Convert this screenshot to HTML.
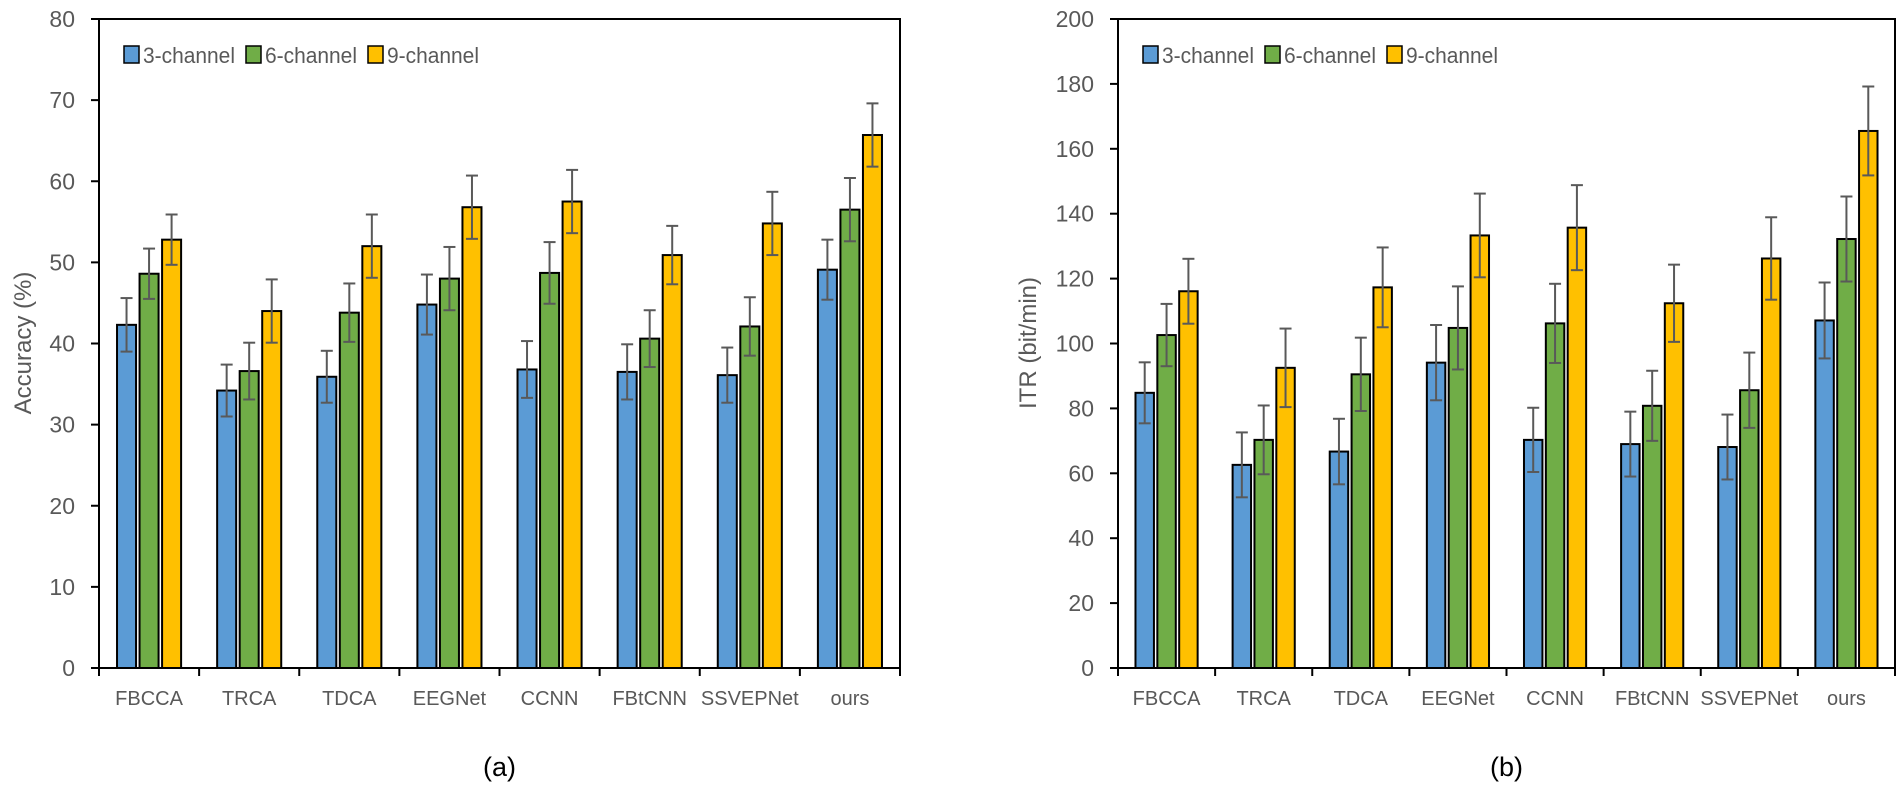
<!DOCTYPE html>
<html><head><meta charset="utf-8">
<style>
html,body{margin:0;padding:0;background:#fff;}
svg{display:block;font-family:"Liberation Sans",sans-serif;}
</style></head>
<body>
<svg id="fig" width="1902" height="788" viewBox="0 0 1902 788" xmlns="http://www.w3.org/2000/svg"></svg>
<script>
const categories = ["FBCCA","TRCA","TDCA","EEGNet","CCNN","FBtCNN","SSVEPNet","ours"];
const seriesNames = ["3-channel","6-channel","9-channel"];
const accTicks = [0,10,20,30,40,50,60,70,80];
const acc3 = [42.3,34.2,35.9,44.8,36.8,36.5,36.1,49.1];
const acc6 = [48.6,36.6,43.8,48.0,48.7,40.6,42.1,56.5];
const acc9 = [52.8,44.0,52.0,56.8,57.5,50.9,54.8,65.7];
const accErr3 = [3.3,3.2,3.2,3.7,3.5,3.4,3.4,3.7];
const accErr6 = [3.1,3.5,3.6,3.9,3.8,3.5,3.6,3.9];
const accErr9 = [3.1,3.9,3.9,3.9,3.9,3.6,3.9,3.9];
const itrTicks = [0,20,40,60,80,100,120,140,160,180,200];
const itr3 = [84.8,62.6,66.7,94.1,70.3,69.0,68.1,107.1];
const itr6 = [102.6,70.3,90.5,104.8,106.2,80.8,85.6,132.2];
const itr9 = [116.1,92.5,117.3,133.3,135.7,112.4,126.2,165.5];
const itrErr3 = [9.4,10.0,10.1,11.6,9.9,10.0,10.0,11.7];
const itrErr6 = [9.6,10.6,11.3,12.8,12.2,10.8,11.6,13.1];
const itrErr9 = [10.0,12.1,12.3,12.9,13.1,11.9,12.7,13.7];

const NS="http://www.w3.org/2000/svg";
const svg=document.getElementById('fig');
const colors=["#5b9bd5","#70ad47","#ffc000"];
function mk(tag,attrs,parent){const e=document.createElementNS(NS,tag);for(const k in attrs)e.setAttribute(k,attrs[k]);(parent||svg).appendChild(e);return e;}

function chart(cfg){
  const g=mk('g',{});
  
  
  const L=cfg.left,R=cfg.right,T=19,B=668;
  const max=cfg.ticks[cfg.ticks.length-1];
  const y=v=>B-(v/max)*(B-T);
  const band=(R-L)/categories.length;
  const xc=i=>L+band*(i+0.5);
  const bw=band*0.19, gap=band*0.035;
  const fr=mk('rect',{x:L,y:T,width:R-L,height:B-T,fill:'none',stroke:'#000','stroke-width':2},g);
  
  
  cfg.ticks.forEach(t=>{
    mk('line',{x1:L-8,x2:L,y1:y(t),y2:y(t),stroke:'#000','stroke-width':2},g);
    const tx=mk('text',{x:L-24,y:y(t)+8,'text-anchor':'end','font-size':23,fill:'#595959'},g);
    tx.textContent=t;
    
    
  });
  for(let i=0;i<=categories.length;i++){
    mk('line',{x1:L+band*i,x2:L+band*i,y1:B,y2:B+8,stroke:'#000','stroke-width':2},g);
  }
  categories.forEach((c,i)=>{
    const tx=mk('text',{x:xc(i),y:B+37,'text-anchor':'middle','font-size':20,fill:'#595959'},g);
    tx.textContent=c;
    
    
  });
  cfg.series.forEach((vals,s)=>{
    vals.forEach((v,i)=>{
      const x=xc(i)+(s-1)*(bw+gap)-bw/2;
      const r=mk('rect',{x:x,y:y(v),width:bw,height:B-y(v),fill:colors[s],stroke:'#000','stroke-width':2},g);
      
      
      const e=cfg.errs[s][i], cx=x+bw/2;
      const eg=mk('g',{stroke:'#595959','stroke-width':2},g);
      
      
      mk('line',{x1:cx,x2:cx,y1:y(v+e),y2:y(v-e)},eg);
      mk('line',{x1:cx-6,x2:cx+6,y1:y(v+e),y2:y(v+e)},eg);
      mk('line',{x1:cx-6,x2:cx+6,y1:y(v-e),y2:y(v-e)},eg);
    });
  });
  const lg=mk('g',{},g);
  
  
  seriesNames.forEach((n,s)=>{
    const lx=L+25+s*122;
    const sq=mk('rect',{x:lx,y:46,width:15,height:17,fill:colors[s],stroke:'#000','stroke-width':1.5},lg);
    
    
    const t=mk('text',{x:lx+19,y:63,'font-size':22,fill:'#595959',textLength:92,lengthAdjust:'spacingAndGlyphs'},lg);
    t.textContent=n;
    
    
  });
  const yt=mk('text',{x:cfg.titleX,y:343,'text-anchor':'middle','font-size':24,fill:'#595959',transform:`rotate(-90 ${cfg.titleX} 343)`},g);
  yt.textContent=cfg.title;
  
  
  const cp=mk('text',{x:(L+R)/2,y:776,'text-anchor':'middle','font-size':27,fill:'#000'},g);
  cp.textContent=cfg.caption;
  
  
}
chart({name:'accuracy-chart',left:99,right:900,ticks:accTicks,series:[acc3,acc6,acc9],errs:[accErr3,accErr6,accErr9],title:'Accuracy (%)',titleX:31,caption:'(a)'});
chart({name:'itr-chart',left:1118,right:1895,ticks:itrTicks,series:[itr3,itr6,itr9],errs:[itrErr3,itrErr6,itrErr9],title:'ITR (bit/min)',titleX:1036,caption:'(b)'});
</script>
</body></html>
